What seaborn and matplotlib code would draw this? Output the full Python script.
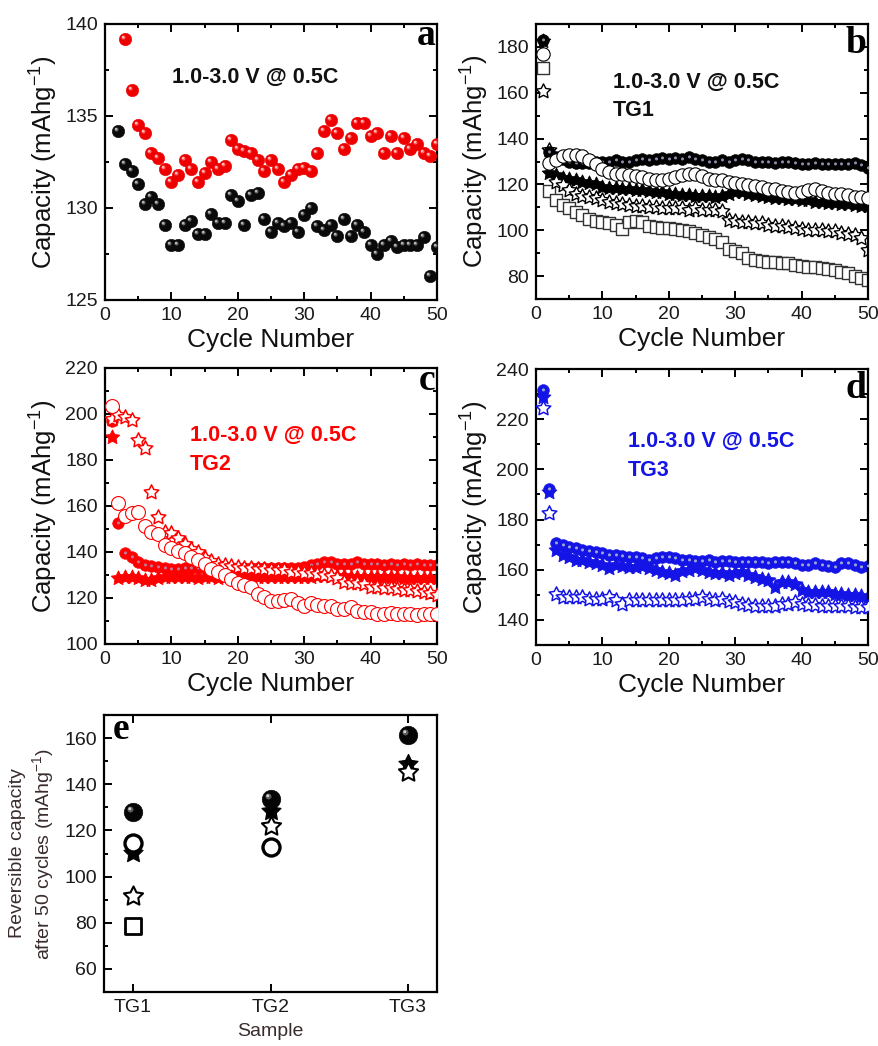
import numpy as np
import matplotlib
matplotlib.use("Agg")
import matplotlib.pyplot as plt
import seaborn as sns
from matplotlib.path import Path
from matplotlib.ticker import MultipleLocator

# ---------------- data ----------------
cycles = list(range(1, 51))
nan = np.nan

# panel a
a_black = [nan, 134.2, 132.4, 132.0, 131.3, 130.2, 130.6, 130.2, 129.1, 128.0,
           128.0, 129.1, 129.3, 128.6, 128.6, 129.7, 129.2, 129.2, 130.7, 130.4,
           129.1, 130.7, 130.8, 129.4, 128.7, 129.2, 129.0, 129.2, 128.7, 129.6,
           130.0, 129.0, 128.8, 129.1, 128.5, 129.4, 128.5, 129.1, 128.7, 128.0,
           127.5, 128.0, 128.2, 127.9, 128.0, 128.0, 128.0, 128.4, 126.3, 127.9]
a_red = [nan, nan, 139.2, 136.4, 134.5, 134.1, 133.0, 132.7, 132.1, 131.4,
         131.8, 132.6, 132.1, 131.4, 131.9, 132.5, 132.1, 132.3, 133.7, 133.2,
         133.1, 133.0, 132.6, 132.0, 132.6, 132.1, 131.4, 131.8, 132.1, 132.2,
         132.0, 133.0, 134.2, 134.8, 134.1, 133.2, 133.8, 134.6, 134.6, 133.9,
         134.1, 133.0, 133.9, 133.0, 133.8, 133.2, 133.5, 133.0, 132.8, 133.5]

# panel b (TG1)
b_sphere = [183.0, 134.0, 132.0, 131.0, 130.0, 129.5, 129.5, 129.5, 130.0, 130.0,
            130.0, 130.5, 130.0, 130.0, 130.5, 131.0, 130.5, 131.0, 131.5, 131.0,
            131.5, 131.0, 132.0, 131.0, 130.5, 130.0, 130.0, 130.5, 130.0, 130.5,
            131.0, 130.5, 130.0, 130.0, 130.0, 129.5, 130.0, 130.0, 129.5, 129.0,
            129.0, 129.5, 129.0, 129.0, 129.0, 129.0, 129.0, 129.5, 128.5, 127.0]
b_ocircle = [176.7, 129.3, 130.7, 132.2, 133.0, 133.0, 132.2, 130.7, 129.0, 126.8,
             125.4, 124.7, 124.4, 124.0, 123.5, 123.2, 122.5, 121.8, 121.8, 122.5,
             123.2, 124.0, 124.7, 124.4, 123.5, 122.5, 121.8, 121.8, 121.0, 120.7,
             120.0, 119.7, 119.2, 118.9, 118.2, 117.8, 117.2, 116.8, 116.4, 116.8,
             117.5, 117.8, 117.2, 116.4, 116.0, 115.8, 115.4, 114.6, 114.3, 114.0]
b_fstar = [182.4, 125.0, 124.0, 123.0, 122.5, 122.0, 121.0, 120.5, 120.0, 119.0,
           118.5, 118.5, 118.0, 118.0, 117.5, 117.5, 117.0, 116.5, 116.5, 116.0,
           116.0, 115.5, 115.5, 115.0, 115.0, 115.0, 114.5, 115.0, 116.0, 116.5,
           116.5, 116.0, 115.5, 115.0, 114.5, 114.0, 114.0, 113.5, 113.5, 113.0,
           113.0, 112.5, 112.5, 112.0, 112.0, 111.5, 111.5, 111.0, 110.5, 110.5]
b_ostar = [160.6, 135.0, 121.0, 119.7, 117.5, 116.0, 115.0, 114.5, 114.0, 113.0,
           112.5, 112.0, 111.5, 111.0, 110.5, 110.5, 110.0, 110.0, 109.5, 109.5,
           109.5, 109.5, 109.0, 109.5, 109.0, 109.0, 109.0, 108.5, 104.5, 104.0,
           103.5, 103.5, 103.0, 103.0, 102.5, 102.0, 102.0, 101.5, 101.0, 100.5,
           100.0, 100.0, 100.0, 99.5, 99.5, 99.0, 98.5, 98.0, 96.5, 91.5]
b_square = [170.7, 117.0, 113.0, 111.0, 109.5, 108.0, 106.5, 105.0, 104.0, 103.5,
            103.0, 102.5, 100.5, 103.5, 104.0, 103.5, 102.0, 101.5, 101.0, 101.0,
            100.5, 100.0, 99.5, 99.0, 98.0, 97.0, 96.0, 95.0, 92.0, 91.0,
            90.0, 88.0, 87.0, 86.5, 86.0, 86.0, 85.5, 85.5, 85.0, 84.5,
            84.0, 84.0, 83.5, 83.0, 82.5, 82.0, 81.5, 80.0, 79.0, 78.5]

# panel c (TG2)
c_sphere = [196.8, 152.8, 139.5, 137.7, 135.8, 134.5, 134.0, 133.5, 133.0, 132.5,
            132.5, 133.0, 133.0, 133.0, 133.0, 132.5, 132.5, 132.5, 132.5, 132.5,
            133.0, 133.0, 133.0, 133.0, 133.0, 133.0, 133.0, 133.0, 133.0, 133.5,
            134.5, 135.0, 135.5, 135.5, 135.0, 135.0, 135.0, 135.5, 135.0, 135.0,
            135.0, 134.5, 135.0, 134.5, 135.0, 134.5, 135.0, 134.5, 134.5, 134.5]
c_fstar = [190.2, 128.6, 129.0, 129.0, 128.5, 128.0, 128.0, 128.5, 129.0, 129.0,
           129.0, 129.0, 129.0, 128.5, 129.0, 129.0, 128.5, 129.0, 129.5, 129.5,
           129.5, 129.5, 129.0, 129.0, 129.0, 129.0, 129.0, 129.0, 129.0, 129.0,
           129.0, 129.5, 129.5, 129.5, 129.5, 129.5, 129.0, 129.0, 129.0, 129.0,
           129.0, 129.0, 129.0, 129.0, 128.5, 128.5, 128.5, 128.5, 128.5, 128.5]
c_ostar = [198.0, 199.7, 198.7, 197.5, 188.8, 185.2, 166.3, 155.1, 148.5, 148.2,
           146.0, 143.5, 141.5, 140.2, 137.5, 136.0, 135.0, 134.5, 134.0, 133.5,
           133.0, 133.0, 132.5, 132.5, 132.0, 132.0, 132.0, 131.5, 131.5, 131.0,
           131.0, 130.5, 130.0, 129.5, 128.5, 127.0, 126.5, 126.5, 126.0, 125.0,
           125.0, 124.5, 124.5, 124.0, 123.5, 123.5, 123.0, 122.5, 122.0, 121.5]
c_ocircle = [203.3, 161.5, 155.7, 156.9, 157.2, 151.1, 148.9, 147.9, 143.1, 141.6,
             140.6, 139.4, 137.7, 136.5, 134.8, 132.5, 131.5, 130.0, 128.1, 126.7,
             125.7, 124.9, 121.7, 120.3, 118.8, 118.8, 119.1, 119.4, 117.7, 116.5,
             118.0, 117.0, 116.5, 116.5, 115.1, 115.1, 116.2, 114.5, 114.0, 114.0,
             113.0, 113.0, 113.6, 113.0, 113.0, 113.0, 112.6, 113.0, 113.0, 113.0]

# panel d (TG3)
d_sphere = [231.6, 192.0, 170.8, 169.8, 169.0, 168.5, 168.0, 167.5, 167.0, 166.5,
            166.0, 166.0, 165.5, 165.0, 165.0, 164.5, 164.0, 164.5, 165.0, 165.0,
            164.5, 164.0, 164.0, 163.5, 163.5, 164.0, 163.0, 163.5, 163.5, 163.0,
            163.0, 163.0, 163.0, 163.0, 162.5, 163.0, 163.0, 163.0, 162.5, 162.0,
            162.0, 162.5, 162.0, 161.5, 161.0, 162.5, 162.5, 162.0, 161.0, 161.5]
d_fstar = [228.7, 191.1, 168.0, 166.0, 165.0, 164.0, 164.0, 163.0, 162.5, 162.0,
           160.5, 162.0, 161.5, 161.0, 161.0, 161.5, 160.5, 160.0, 159.0, 158.5,
           158.0, 159.5, 160.0, 160.5, 160.0, 159.0, 158.5, 158.5, 158.0, 158.5,
           159.0, 158.0, 157.0, 156.5, 156.0, 153.0, 155.0, 155.0, 154.5, 152.0,
           151.0, 151.0, 151.0, 151.0, 150.5, 150.5, 150.0, 150.0, 149.5, 149.0]
d_ostar = [224.3, 182.5, 150.4, 149.3, 149.0, 149.0, 149.0, 148.5, 148.5, 148.5,
           149.0, 148.0, 146.5, 148.0, 148.0, 148.0, 148.0, 148.0, 148.0, 148.0,
           148.0, 148.0, 148.5, 148.5, 149.0, 148.5, 148.0, 148.5, 147.5, 147.0,
           146.5, 146.0, 145.5, 145.5, 145.5, 145.5, 146.5, 146.5, 147.0, 146.5,
           146.0, 146.0, 145.5, 145.5, 145.5, 145.5, 145.5, 145.0, 145.0, 145.0]

# panel e
samples = ["TG1", "TG2", "TG3"]
e_sphere = [127.9, 133.7, 161.4]
e_ocircle = [114.5, 113.0, nan]
e_fstar = [110.1, 128.6, 148.6]
e_ostar = [91.4, 122.1, 145.3]
e_square = [78.4, nan, nan]

annot = "1.0-3.0 V @ 0.5C"

# ---------------- style ----------------
sns.set_theme(style="ticks")
plt.rcParams["font.family"] = ["Liberation Sans", "DejaVu Sans"]
plt.rcParams["mathtext.fontset"] = "custom"
plt.rcParams["mathtext.rm"] = "Liberation Sans"
plt.rcParams["mathtext.it"] = "Liberation Sans:italic"
plt.rcParams["mathtext.bf"] = "Liberation Sans:bold"
plt.rcParams["axes.linewidth"] = 1.6
plt.rcParams["axes.edgecolor"] = "black"

RED = "#ff0000"
BLUE = "#1414e6"


def star_path(ratio=0.5):
    ang = np.deg2rad(90 + 36 * np.arange(10))
    r = np.where(np.arange(10) % 2 == 0, 1.0, ratio)
    v = np.column_stack([r * np.cos(ang), r * np.sin(ang)])
    v = np.vstack([v, v[0]])
    codes = [Path.MOVETO] + [Path.LINETO] * 9 + [Path.CLOSEPOLY]
    return Path(v, codes)


def hl_path(cx, cy, r):
    c = Path.circle((cx, cy), r)
    v = np.vstack([[[1.0, 1.0], [-1.0, -1.0]], c.vertices])
    codes = [Path.MOVETO, Path.MOVETO] + list(c.codes)
    return Path(v, codes)


STAR = star_path(0.5)
HL_OFF = hl_path(-0.32, 0.32, 0.32)
HL_OFF2 = hl_path(-0.4, 0.4, 0.16)
HL_C = hl_path(0.0, 0.1, 0.26)


def sphere(ax, x, y, s, col, hl, z, offset=True, hl2=None):
    sns.scatterplot(x=x, y=y, ax=ax, marker="o", s=s, color=col,
                    edgecolor=col, linewidth=0.4, zorder=z, legend=False)
    sns.scatterplot(x=x, y=y, ax=ax, marker=HL_OFF if offset else HL_C, s=s,
                    color=hl, linewidth=0, zorder=z + 0.01, legend=False)
    if hl2 is not None:
        sns.scatterplot(x=x, y=y, ax=ax, marker=HL_OFF2, s=s,
                        color=hl2, linewidth=0, zorder=z + 0.02, legend=False)


def pts(ax, x, y, marker, s, face, edge, lw, z):
    sns.scatterplot(x=x, y=y, ax=ax, marker=marker, s=s, color=face,
                    edgecolor=edge, linewidth=lw, zorder=z, legend=False)


def style_axes(ax, xmaj, xmin, ymaj, ymin):
    ax.xaxis.set_major_locator(MultipleLocator(xmaj))
    if xmin:
        ax.xaxis.set_minor_locator(MultipleLocator(xmin))
    ax.yaxis.set_major_locator(MultipleLocator(ymaj))
    ax.yaxis.set_minor_locator(MultipleLocator(ymin))
    ax.tick_params(which="both", direction="in", top=True, right=True,
                   width=1.4, color="black")
    ax.tick_params(which="major", length=6, labelsize=14, pad=5,
                   labelcolor="#1a1a1a")
    ax.tick_params(which="minor", length=3)
    for sp in ax.spines.values():
        sp.set_visible(True)
        sp.set_linewidth(1.6)
        sp.set_color("black")


YLAB = "Capacity (mAhg$^{-1}$)"

fig = plt.figure(figsize=(8.79, 10.46), dpi=100)
W, H = 879.0, 1046.0


def rect(l, t, r, b):
    return [l / W, 1 - b / H, (r - l) / W, (b - t) / H]


axa = fig.add_axes(rect(105, 24, 437, 300))
axb = fig.add_axes(rect(536, 24, 868, 299))
axc = fig.add_axes(rect(105, 368, 437, 644))
axd = fig.add_axes(rect(536, 369, 868, 645))
axe = fig.add_axes(rect(104, 715, 437, 992))

# ---- panel a ----
sphere(axa, cycles, a_black, 80, "#0a0a0a", "#6e6e6e", 3, hl2="#c8c8c8")
sphere(axa, cycles, a_red, 80, "#ee0000", "#ff6a6a", 3.1, hl2="#ffd0d0")
axa.set_xlim(0, 50)
axa.set_ylim(125, 140)
style_axes(axa, 10, 5, 5, 2.5)
axa.text(0.202, 0.808, annot, transform=axa.transAxes, fontsize=15.5,
         fontweight="bold", color="#111111", va="center", ha="left")

# ---- panel b ----
sphere(axb, cycles, b_sphere, 72, "#000000", "#8c8cac", 3, offset=False)
pts(axb, cycles, b_fstar, STAR, 120, "black", "black", 0.6, 2)
pts(axb, cycles, b_ostar, STAR, 120, "white", "black", 1.0, 2.5)
pts(axb, cycles, b_square, "s", 65, "white", "#333333", 1.0, 2.4)
pts(axb, cycles, b_ocircle, "o", 92, "white", "black", 0.8, 4)
axb.set_xlim(0, 50)
axb.set_ylim(70, 190)
style_axes(axb, 10, 5, 20, 10)
axb.text(0.232, 0.789, annot, transform=axb.transAxes, fontsize=15.5,
         fontweight="bold", color="#111111", va="center", ha="left")
axb.text(0.232, 0.687, "TG1", transform=axb.transAxes, fontsize=15.5,
         fontweight="bold", color="#111111", va="center", ha="left")

# ---- panel c ----
pts(axc, cycles, c_fstar, STAR, 120, RED, RED, 0.6, 2)
sphere(axc, cycles, c_sphere, 70, RED, "#c07a9c", 2.5, offset=False)
pts(axc, cycles, c_ostar, STAR, 120, "white", RED, 1.1, 3)
pts(axc, cycles, c_ocircle, "o", 100, "white", RED, 0.8, 4)
axc.set_xlim(0, 50)
axc.set_ylim(100, 220)
style_axes(axc, 10, 5, 20, 10)
axc.text(0.256, 0.754, annot, transform=axc.transAxes, fontsize=15.5,
         fontweight="bold", color=RED, va="center", ha="left")
axc.text(0.256, 0.652, "TG2", transform=axc.transAxes, fontsize=15.5,
         fontweight="bold", color=RED, va="center", ha="left")

# ---- panel d ----
pts(axd, cycles, d_fstar, STAR, 125, BLUE, BLUE, 0.6, 2)
sphere(axd, cycles, d_sphere, 72, BLUE, "#9aa6d2", 2.5, offset=False)
pts(axd, cycles, d_ostar, STAR, 120, "white", BLUE, 1.1, 3)
axd.set_xlim(0, 50)
axd.set_ylim(130, 240)
style_axes(axd, 10, 5, 20, 10)
axd.text(0.277, 0.736, annot, transform=axd.transAxes, fontsize=15.5,
         fontweight="bold", color=BLUE, va="center", ha="left")
axd.text(0.277, 0.634, "TG3", transform=axd.transAxes, fontsize=15.5,
         fontweight="bold", color=BLUE, va="center", ha="left")

for ax in (axa, axb, axc, axd):
    ax.set_xlabel("Cycle Number", fontsize=19, color="#111111", labelpad=3)
    ax.set_ylabel(YLAB, fontsize=18.5, color="#111111", labelpad=4)

# ---- panel e ----
xpos = np.arange(len(samples))
pts(axe, xpos, e_fstar, STAR, 210, "black", "black", 0.8, 2)
pts(axe, xpos, e_ostar, STAR, 210, "white", "black", 1.5, 3)
pts(axe, xpos, e_square, "s", 120, "white", "black", 2.0, 3)
pts(axe, xpos, e_ocircle, "o", 150, "white", "black", 2.4, 4)
sphere(axe, xpos, e_sphere, 180, "#050505", "#5a5a5a", 5, hl2="#d0d0d0")
axe.set_xlim(-0.21, 2.21)
axe.set_ylim(50, 170)
axe.set_xticks(xpos)
axe.set_xticklabels(samples)
axe.yaxis.set_major_locator(MultipleLocator(20))
axe.yaxis.set_minor_locator(MultipleLocator(10))
axe.tick_params(which="both", direction="in", top=True, right=False,
                width=1.4, color="black")
axe.tick_params(which="major", length=6, labelsize=14, pad=5,
                labelcolor="#1a1a1a")
axe.tick_params(which="minor", length=3)
for sp in axe.spines.values():
    sp.set_visible(True)
    sp.set_linewidth(1.6)
axe.set_xlabel("Sample", fontsize=14, color="#3a2c2c", labelpad=5)
axe.set_ylabel("Reversible capacity\nafter 50 cycles (mAhg$^{-1}$)",
               fontsize=14, color="#3a2c2c", labelpad=6, linespacing=1.2)

# panel letters
letter_kw = dict(fontsize=27, fontweight="bold", family="Liberation Serif",
                 color="black", va="baseline")
axa.text(0.995, 0.924, "a", transform=axa.transAxes, ha="right", **letter_kw)
axb.text(0.995, 0.895, "b", transform=axb.transAxes, ha="right", **letter_kw)
axc.text(0.995, 0.92, "c", transform=axc.transAxes, ha="right", **letter_kw)
axd.text(0.995, 0.895, "d", transform=axd.transAxes, ha="right", **letter_kw)
axe.text(0.027, 0.913, "e", transform=axe.transAxes, ha="left", **letter_kw)

fig.savefig("out.png", dpi=100, facecolor="white")
